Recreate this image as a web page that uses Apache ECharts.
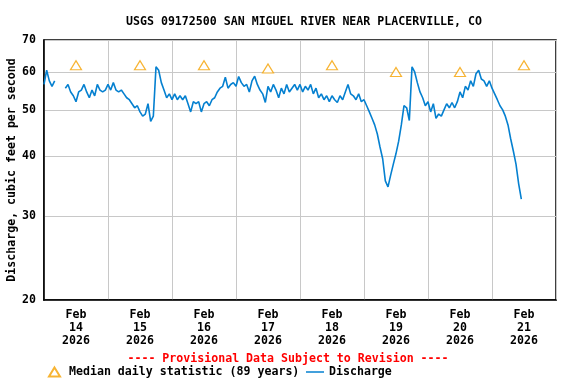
<!DOCTYPE html>
<html><head><meta charset="utf-8">
<script src="https://cdn.jsdelivr.net/npm/echarts@6/dist/echarts.min.js"></script>
<style>html,body{margin:0;padding:0;background:#fff}#c{width:576px;height:384px}</style>
</head><body><div id="c"></div>
<script>
// Hourly discharge readings (cfs) starting Feb 14 2026 00:00; null = missing
const dischargeHourly = [
  56.5, 60.5, 57.5, 56, 57.5, null, null, null,
  55.5, 56.5, 54.5, 53.5, 52, 54.5, 55, 56.5,
  54.5, 53, 55, 53.5, 56.5, 55, 54.5, 55,
  56.5, 55, 57, 55, 54.5, 55, 54, 53,
  52.5, 51.5, 50.5, 51, 49.5, 48.5, 49, 51.5,
  47.3, 48.5, 61.5, 60.5, 57, 55, 53, 54,
  52.5, 54, 52.5, 53.5, 52.5, 53.5, 51.5, 49.5,
  52, 51.5, 52, 49.5, 51.5, 52, 51, 52.5,
  53, 54.5, 55.5, 56, 58.5, 55.5, 56.5, 57,
  56, 58.7, 57, 56, 56.5, 54.5, 57.5, 58.8,
  56.5, 55, 54, 51.8, 56, 54.5, 56.5, 55,
  53, 55.5, 54, 56.5, 54.5, 55.5, 56.5, 55,
  56.5, 54.5, 56, 55, 56.5, 54, 55.5, 53,
  54, 52.5, 53.5, 52, 53.5, 52.5, 51.8, 53.5,
  52.5, 54.5, 56.5, 54, 53.5, 52.5, 54, 52,
  52.5, 51, 49.5, 48, 46.5, 44.5, 41.8, 39.5,
  35.5, 34.5, 36.5, 38.5, 40.5, 43, 46.5, 51,
  50.5, 47.5, 61.5, 60, 57, 54.5, 53, 51,
  52, 49.5, 51.5, 48, 49, 48.5, 50, 51.5,
  50.5, 51.8, 50.5, 52, 54.5, 53, 56, 55,
  57.5, 56, 59.5, 60.5, 58, 57.5, 56, 57.5,
  55.5, 54, 52.5, 51, 50, 48.5, 46.5, 43.5,
  41, 38.5, 35, 32.5
];
// Median daily statistic (89 years), Feb 14 .. Feb 21
const medianDays = [14, 15, 16, 17, 18, 19, 20, 21];
const medianValues = [62, 62, 62, 61, 62, 60, 60, 62];
const yTicks = [20, 30, 40, 50, 60, 70];
const monthName = 'Feb';
const yearText = '2026';
const firstDay = 14;

// x axis in hours since Feb 14 2026 00:00
const dischargeData = dischargeHourly.map((v, i) => [i, v]);
const medianData = medianDays.map((d, i) => [(d - firstDay) * 24 + 12, medianValues[i]]);
const labelHours = medianDays.map(d => (d - firstDay) * 24 + 12);

const FONT = 'DejaVu Sans Mono';
const chart = echarts.init(document.getElementById('c'));
chart.setOption({
  animation: false,
  backgroundColor: '#fff',
  title: {
    text: 'USGS 09172500 SAN MIGUEL RIVER NEAR PLACERVILLE, CO',
    left: 299, top: 11, textAlign: 'center',
    textStyle: { fontFamily: FONT, fontWeight: 'bold', fontSize: 11.6, color: '#000' }
  },
  grid: { left: 44, top: 40, width: 512, height: 260, containLabel: false, outerBoundsMode: 'none',
          show: true, borderColor: '#000', borderWidth: 1.5, backgroundColor: 'transparent' },
  xAxis: {
    type: 'value', min: 0, max: 192, interval: 24,
    axisLine: { show: true, lineStyle: { color: '#000', width: 1.5 } },
    axisTick: { show: false },
    splitLine: { show: true, lineStyle: { color: '#c8c8c8', width: 1 } },
    axisLabel: {
      customValues: labelHours,
      margin: 8,
      fontFamily: FONT, fontWeight: 'bold', fontSize: 11.6, color: '#000', lineHeight: 13,
      formatter: v => monthName + '\n' + (firstDay + Math.floor(v / 24)) + '\n' + yearText
    }
  },
  yAxis: {
    type: 'log', logBase: 10, min: 20, max: 70,
    name: 'Discharge, cubic feet per second',
    nameLocation: 'middle', nameGap: 26, nameRotate: 90, nameMoveOverlap: false,
    nameTextStyle: { fontFamily: FONT, fontWeight: 'bold', fontSize: 11.6, color: '#000' },
    axisLine: { show: true, lineStyle: { color: '#000', width: 1.5 } },
    axisTick: { show: false, customValues: yTicks },
    splitLine: { show: true, lineStyle: { color: '#c8c8c8', width: 1 } },
    axisLabel: {
      customValues: yTicks, margin: 8,
      fontFamily: FONT, fontWeight: 'bold', fontSize: 11.6, color: '#000',
      formatter: v => String(Math.round(v))
    }
  },
  legend: [
    {
      data: [{ name: 'Median daily statistic (89 years)', icon: 'triangle' }],
      left: 48, top: 366, padding: 0, itemWidth: 11, itemHeight: 9, itemGap: 0,
      textStyle: { fontFamily: FONT, fontWeight: 'bold', fontSize: 11.6, color: '#000', padding: [0, 0, 0, 4] }
    },
    {
      data: [{ name: 'Discharge', icon: 'rect' }],
      left: 306, top: 366, padding: 0, itemWidth: 18, itemHeight: 1.5, itemGap: 0,
      textStyle: { fontFamily: FONT, fontWeight: 'bold', fontSize: 11.6, color: '#000' }
    }
  ],
  graphic: [{
    type: 'text', left: 'center', top: 353,
    style: { text: '---- Provisional Data Subject to Revision ----', fill: '#ff0000', font: 'bold 11.6px "DejaVu Sans Mono"' }
  }],
  series: [
    {
      name: 'Discharge', type: 'line', data: dischargeData,
      showSymbol: false, symbol: 'none', connectNulls: false,
      lineStyle: { color: '#0580d0', width: 1.6 }, itemStyle: { color: '#0580d0' }
    },
    {
      name: 'Median daily statistic (89 years)', type: 'scatter', data: medianData,
      symbol: 'triangle', symbolSize: [11, 9],
      itemStyle: { color: '#ffffff', borderColor: '#f5a100', borderWidth: 1.2 }
    }
  ]
});
</script>
</body></html>
